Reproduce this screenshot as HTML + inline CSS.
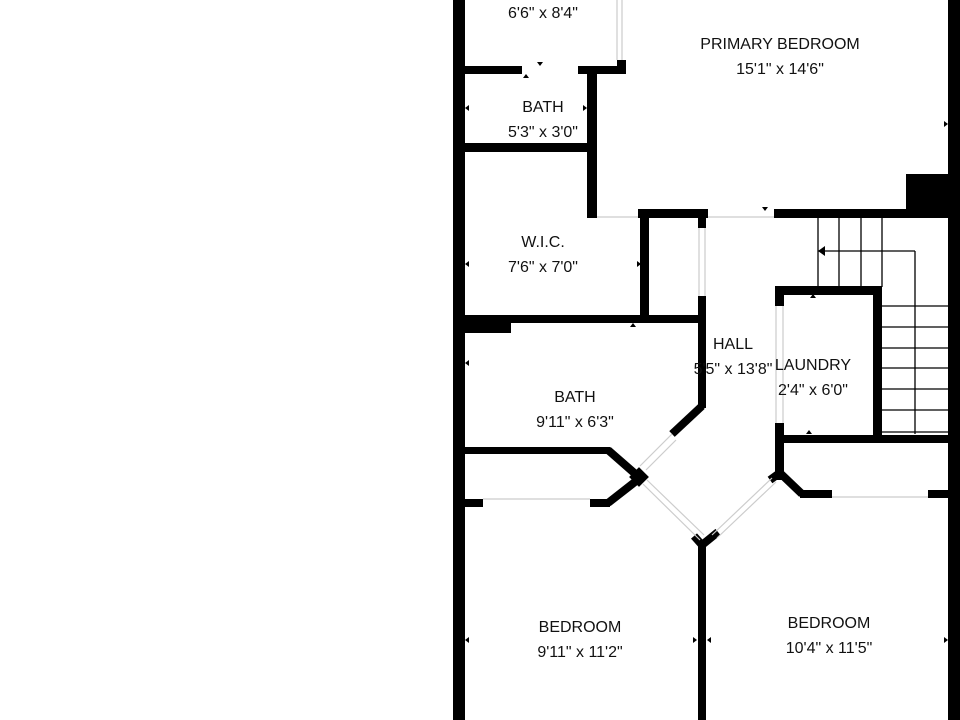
<!DOCTYPE html>
<html><head><style>
html,body{margin:0;padding:0;background:#fff;}
svg{display:block;}
text{font-family:"Liberation Sans",sans-serif;font-size:16px;fill:#111;text-anchor:middle;dominant-baseline:middle;}
</style></head><body>
<svg width="960" height="720" viewBox="0 0 960 720" xmlns="http://www.w3.org/2000/svg">
<rect width="960" height="720" fill="#fff"/>
<rect x="453" y="0" width="12" height="720" fill="#000"/>
<rect x="948" y="0" width="12" height="720" fill="#000"/>
<g fill="#000">
<rect x="465" y="66" width="57" height="8"/>
<rect x="578" y="66" width="48" height="8"/>
<rect x="617" y="60" width="9" height="14"/>
<rect x="587" y="66" width="10" height="152"/>
<rect x="465" y="143" width="122" height="9"/>
<rect x="638" y="209" width="70" height="9"/>
<rect x="774" y="209" width="174" height="9"/>
<rect x="906" y="174" width="42" height="36"/>
<rect x="640" y="209" width="9" height="111"/>
<rect x="465" y="315" width="241" height="8"/>
<rect x="465" y="315" width="46" height="18"/>
<rect x="698" y="218" width="8" height="10"/>
<rect x="698" y="296" width="8" height="112"/>
<rect x="776" y="286" width="106" height="9"/>
<rect x="873" y="286" width="9" height="157"/>
<rect x="775" y="286" width="9" height="20"/>
<rect x="775" y="423" width="9" height="57"/>
<rect x="784" y="435" width="164" height="8"/>
<rect x="800" y="490" width="32" height="8"/>
<rect x="928" y="490" width="20" height="8"/>
<rect x="465" y="447" width="145" height="7"/>
<rect x="465" y="499" width="18" height="8"/>
<rect x="590" y="499" width="20" height="8"/>
<rect x="698" y="540" width="8" height="180"/>
</g>
<g stroke="#000" stroke-width="8" fill="none" stroke-linecap="butt">
<line x1="702" y1="406" x2="672" y2="434"/>
<line x1="608" y1="450" x2="640" y2="478"/>
<line x1="608" y1="503" x2="640" y2="478"/>
<line x1="780" y1="473" x2="802" y2="494"/>
<line x1="702" y1="545" x2="694" y2="536"/>
<line x1="702" y1="545" x2="718" y2="532"/>
<line x1="781" y1="472" x2="770" y2="480"/>
</g>
<rect x="632" y="470" width="14" height="14" fill="#000" transform="rotate(45 639 477)"/>
<g stroke="#ccc" stroke-width="1.2" fill="none">
<line x1="617" y1="0" x2="617" y2="60"/><line x1="622" y1="0" x2="622" y2="60"/>
<line x1="597" y1="217" x2="638" y2="217"/>
<line x1="708" y1="217" x2="774" y2="217"/>
<line x1="699" y1="228" x2="699" y2="296"/><line x1="705" y1="228" x2="705" y2="296"/>
<line x1="776" y1="306" x2="776" y2="423"/><line x1="783" y1="306" x2="783" y2="423"/>
<line x1="672" y1="434" x2="640" y2="466"/><line x1="676" y1="440" x2="646" y2="470"/>
<line x1="643" y1="484" x2="700" y2="540"/><line x1="647" y1="480" x2="704" y2="535"/>
<line x1="712" y1="535" x2="772" y2="478"/><line x1="717" y1="538" x2="776" y2="482"/>
<line x1="483" y1="499" x2="590" y2="499"/>
<line x1="832" y1="497" x2="928" y2="497"/>
</g>
<g stroke="#000" stroke-width="1.3" fill="none">
<line x1="818" y1="218" x2="818" y2="287"/>
<line x1="839" y1="218" x2="839" y2="287"/>
<line x1="861" y1="218" x2="861" y2="287"/>
<line x1="882" y1="218" x2="882" y2="287"/>
<line x1="818" y1="251" x2="915" y2="251"/>
<line x1="915" y1="251" x2="915" y2="434"/>
<line x1="882" y1="306" x2="948" y2="306"/>
<line x1="882" y1="327" x2="948" y2="327"/>
<line x1="882" y1="348" x2="948" y2="348"/>
<line x1="882" y1="368" x2="948" y2="368"/>
<line x1="882" y1="389" x2="948" y2="389"/>
<line x1="882" y1="410" x2="948" y2="410"/>
<line x1="882" y1="432" x2="948" y2="432"/>
</g>
<polygon points="818,251 825,246 825,256" fill="#000"/>
<g fill="#000">
<polygon points="537,62 543,62 540,66"/>
<polygon points="523,78 529,78 526,74"/>
<polygon points="762,207 768,207 765,211"/>
<polygon points="630,327 636,327 633,323"/>
<polygon points="810,298 816,298 813,294"/>
<polygon points="806,434 812,434 809,430"/>
<polygon points="465,363 469,360 469,366"/>
<polygon points="465,640 469,637 469,643"/>
<polygon points="948,640 944,637 944,643"/>
<polygon points="948,124 944,121 944,127"/>
<polygon points="465,264 469,261 469,267"/>
<polygon points="641,264 637,261 637,267"/>
<polygon points="465,108 469,105 469,111"/>
<polygon points="587,108 583,105 583,111"/>
<polygon points="697,640 693,637 693,643"/>
<polygon points="707,640 711,637 711,643"/>
</g>
<text x="543" y="14">6'6" x 8'4"</text>
<text x="780" y="45">PRIMARY BEDROOM</text>
<text x="780" y="70">15'1" x 14'6"</text>
<text x="543" y="108">BATH</text>
<text x="543" y="133">5'3" x 3'0"</text>
<text x="543" y="243">W.I.C.</text>
<text x="543" y="268">7'6" x 7'0"</text>
<text x="733" y="345">HALL</text>
<text x="733" y="370">5'5" x 13'8"</text>
<text x="813" y="366">LAUNDRY</text>
<text x="813" y="391">2'4" x 6'0"</text>
<text x="575" y="398">BATH</text>
<text x="575" y="423">9'11" x 6'3"</text>
<text x="580" y="628">BEDROOM</text>
<text x="580" y="653">9'11" x 11'2"</text>
<text x="829" y="624">BEDROOM</text>
<text x="829" y="649">10'4" x 11'5"</text>
</svg>
</body></html>
